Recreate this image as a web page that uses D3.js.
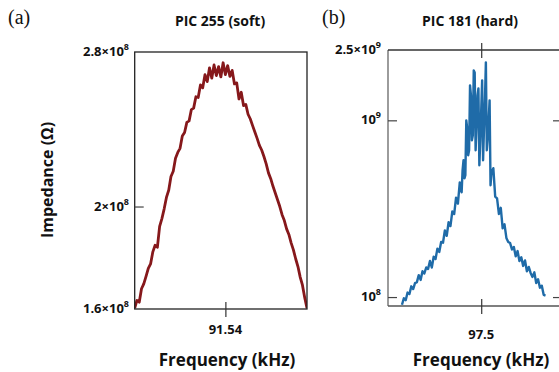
<!DOCTYPE html>
<html>
<head>
<meta charset="utf-8">
<script src="https://cdn.jsdelivr.net/npm/d3@7"></script>
<style>
  body { margin: 0; background: #fff; }
  text { font-family: "Open Sans", Lato, sans-serif; font-weight: bold; fill: #111; }
  .panel { font-family: "Liberation Serif", serif; font-weight: normal; }
</style>
</head>
<body>
<div id="chart"></div>
<script>
// panel (a) PIC 255 soft: frequency (kHz) and impedance (x1e8 ohm)
const freqA = [91.4400, 91.4425, 91.4450, 91.4475, 91.4500, 91.4525, 91.4550, 91.4575, 91.4600, 91.4625,
  91.4650, 91.4675, 91.4700, 91.4725, 91.4750, 91.4775, 91.4800, 91.4825, 91.4850, 91.4875,
  91.4900, 91.4925, 91.4950, 91.4975, 91.5000, 91.5025, 91.5050, 91.5075, 91.5100, 91.5125,
  91.5150, 91.5175, 91.5200, 91.5225, 91.5250, 91.5275, 91.5300, 91.5325, 91.5350, 91.5375,
  91.5400, 91.5425, 91.5450, 91.5475, 91.5500, 91.5525, 91.5550, 91.5575, 91.5600, 91.5625,
  91.5650, 91.5675, 91.5700, 91.5725, 91.5750, 91.5775, 91.5800, 91.5825, 91.5850, 91.5875,
  91.5900, 91.5925, 91.5950, 91.5975, 91.6000, 91.6025, 91.6050, 91.6075, 91.6100, 91.6125,
  91.6150, 91.6175, 91.6200, 91.6225, 91.6250, 91.6275, 91.6300];
const impA = [1.603, 1.630, 1.624, 1.672, 1.690, 1.718, 1.748, 1.765, 1.812, 1.838,
  1.830, 1.915, 1.948, 1.990, 2.040, 2.072, 2.135, 2.160, 2.222, 2.250,
  2.270, 2.332, 2.350, 2.402, 2.410, 2.470, 2.478, 2.540, 2.536, 2.606,
  2.590, 2.665, 2.625, 2.705, 2.645, 2.722, 2.660, 2.712, 2.652, 2.735,
  2.665, 2.718, 2.655, 2.690, 2.612, 2.618, 2.528, 2.565, 2.492, 2.498,
  2.445, 2.420, 2.385, 2.352, 2.320, 2.285, 2.262, 2.230, 2.195, 2.152,
  2.125, 2.090, 2.060, 2.030, 2.000, 1.965, 1.940, 1.905, 1.882, 1.848,
  1.820, 1.785, 1.755, 1.715, 1.685, 1.640, 1.603];

// panel (b) PIC 181 hard, denser sampling around the resonance
const freqB = [97.245, 97.251, 97.257, 97.263, 97.269, 97.275, 97.281, 97.287, 97.293, 97.299,
  97.305, 97.311, 97.317, 97.323, 97.329, 97.335, 97.341, 97.347, 97.353, 97.359,
  97.365, 97.371, 97.377, 97.383, 97.389, 97.395, 97.401, 97.407, 97.413, 97.419,
  97.425, 97.431, 97.437,
  97.440, 97.443, 97.446, 97.449, 97.452, 97.455, 97.458, 97.461, 97.464, 97.467,
  97.470, 97.473, 97.476, 97.479, 97.482, 97.485, 97.488, 97.491, 97.494, 97.497,
  97.500, 97.503, 97.506, 97.509, 97.512, 97.515, 97.518, 97.521, 97.524, 97.527,
  97.530, 97.533,
  97.539, 97.545, 97.551, 97.557, 97.563, 97.569, 97.575, 97.581, 97.587, 97.593,
  97.599, 97.605, 97.611, 97.617, 97.623, 97.629, 97.635, 97.641, 97.647, 97.653,
  97.659, 97.665, 97.671, 97.677, 97.683, 97.689, 97.695, 97.701, 97.707];
const impB = [0.905, 0.985, 0.960, 1.060, 1.040, 1.150, 1.110, 1.200, 1.215, 1.330,
  1.250, 1.400, 1.360, 1.470, 1.440, 1.600, 1.470, 1.690, 1.640, 1.880,
  1.800, 2.050, 2.030, 2.380, 2.220, 2.650, 2.520, 3.050, 2.950, 3.650,
  3.380, 4.450, 3.920,
  5.218, 5.943, 4.70, 4.890, 10.0, 9.01, 6.34, 6.77, 15.77, 13.84,
  7.71, 8.23, 19.17, 18.67, 6.77, 9.37, 13.84, 15.16, 5.57, 7.71,
  11.39, 16.83, 5.943, 9.01, 12.97, 21.27, 6.77, 7.91, 10.0, 12.97,
  4.29, 5.08,
  5.36, 3.70, 3.62, 2.95, 3.20, 2.45, 2.58, 2.16, 2.05, 2.02,
  1.86, 1.92, 1.70, 1.82, 1.60, 1.68, 1.50, 1.61, 1.40, 1.48,
  1.37, 1.30, 1.38, 1.20, 1.26, 1.13, 1.16, 1.03, 1.02];

const ticksA = [{ v: 2.8e8, m: "2.8×10", e: "8" }, { v: 2e8, m: "2×10", e: "8" }, { v: 1.6e8, m: "1.6×10", e: "8" }];
const ticksB = [{ v: 2.5e9, m: "2.5×10", e: "9" }, { v: 1e9, m: "10", e: "9" }, { v: 1e8, m: "10", e: "8" }];
const xTickA = [91.54];
const xTickB = [97.5];

const width = 559, height = 372;
const svg = d3.select("#chart").append("svg")
  .attr("width", width).attr("height", height);

const xA = d3.scaleLinear().domain([91.44, 91.63]).range([134.7, 307]);
const yA = d3.scaleLog().domain([1.6e8, 2.8e8]).range([309, 52]);
const xB = d3.scaleLinear().domain([97.2, 97.76]).range([388, 562]);
const yB = d3.scaleLog().domain([8.9e7, 2.5e9]).range([306, 50]);

// clip paths
const defs = svg.append("defs");
defs.append("clipPath").attr("id", "clipA").append("rect")
  .attr("x", 134.7).attr("y", 52).attr("width", 307 - 134.7).attr("height", 257);
defs.append("clipPath").attr("id", "clipB").append("rect")
  .attr("x", 388).attr("y", 50).attr("width", 174).attr("height", 256);

// curves
const lineA = d3.line().x((d, i) => xA(freqA[i])).y(d => yA(d * 1e8));
svg.append("path")
  .attr("clip-path", "url(#clipA)")
  .attr("d", lineA(impA))
  .attr("fill", "none")
  .attr("stroke", "#86181b")
  .attr("stroke-width", 2.8)
  .attr("stroke-linejoin", "round");

const lineB = d3.line().x((d, i) => xB(freqB[i])).y(d => yB(d * 1e8));
svg.append("path")
  .attr("clip-path", "url(#clipB)")
  .attr("d", lineB(impB))
  .attr("fill", "none")
  .attr("stroke", "#1f6ba8")
  .attr("stroke-width", 2.4)
  .attr("stroke-linejoin", "round");

// frame (a)
svg.append("rect")
  .attr("x", 134.7).attr("y", 52).attr("width", 307 - 134.7).attr("height", 257)
  .attr("fill", "none").attr("stroke", "#222").attr("stroke-width", 1.3);

// frame (b), right side runs off the page
svg.append("line").attr("x1", 388).attr("x2", 388).attr("y1", 50).attr("y2", 306)
  .attr("stroke", "#666").attr("stroke-width", 1.3);
svg.append("line").attr("x1", 388).attr("x2", 562).attr("y1", 50).attr("y2", 50)
  .attr("stroke", "#333").attr("stroke-width", 1.3);
svg.append("line").attr("x1", 388).attr("x2", 562).attr("y1", 306).attr("y2", 306)
  .attr("stroke", "#555").attr("stroke-width", 1.3);

// y axes with inward ticks
function yAxis(scale, x, ticks, dir) {
  const ax = (dir > 0 ? d3.axisLeft(scale) : d3.axisRight(scale))
    .tickValues(ticks.map(t => t.v)).tickSize(-9).tickFormat("");
  const g = svg.append("g").attr("transform", `translate(${x},0)`).call(ax);
  g.select(".domain").remove();
  g.selectAll(".tick line").attr("stroke", "#444").attr("stroke-width", 1.2);
  return g;
}
yAxis(yA, 134.7, ticksA.filter(t => t.v === 2e8), 1);
yAxis(yB, 388, ticksB.filter(t => t.v !== 2.5e9), 1);
yAxis(yB, 562, ticksB.filter(t => t.v !== 2.5e9), -1);

// x ticks crossing the frame
function xTick(scale, vals, y) {
  const g = svg.append("g").attr("transform", `translate(0,${y})`)
    .call(d3.axisBottom(scale).tickValues(vals).tickSize(8).tickFormat(""));
  g.select(".domain").remove();
  g.selectAll(".tick line").attr("y1", -7).attr("stroke", "#333").attr("stroke-width", 1.2);
}
xTick(xA, xTickA, 309);
xTick(xB, xTickB, 306);
xTick(xB, xTickB, 50);

// tick labels with superscripts
function yLabels(scale, ticks, xRight) {
  ticks.forEach(t => {
    const txt = svg.append("text")
      .attr("x", xRight).attr("y", scale(t.v) + 4)
      .attr("text-anchor", "end").style("font-size", "13px");
    txt.append("tspan").text(t.m);
    txt.append("tspan").attr("dy", -6).style("font-size", "9px").text(t.e);
  });
}
yLabels(yA, ticksA, 129);
yLabels(yB, ticksB, 381);

svg.selectAll(".xlabA").data(xTickA).enter().append("text")
  .attr("x", d => xA(d)).attr("y", 334).attr("text-anchor", "middle")
  .style("font-size", "13px").text(d => d.toFixed(2));
svg.selectAll(".xlabB").data(xTickB).enter().append("text")
  .attr("x", d => xB(d)).attr("y", 339).attr("text-anchor", "middle")
  .style("font-size", "13px").text(d => d.toFixed(1));

// axis titles
svg.append("text").attr("x", 227).attr("y", 366).attr("text-anchor", "middle")
  .style("font-size", "17px").text("Frequency (kHz)");
svg.append("text").attr("x", 481).attr("y", 366).attr("text-anchor", "middle")
  .style("font-size", "17px").text("Frequency (kHz)");
svg.append("text").attr("transform", "translate(53,180) rotate(-90)")
  .attr("text-anchor", "middle").style("font-size", "16px").text("Impedance (Ω)");

// panel titles
svg.append("text").attr("x", 220).attr("y", 26).attr("text-anchor", "middle")
  .style("font-size", "14px").text("PIC 255 (soft)");
svg.append("text").attr("x", 470).attr("y", 26).attr("text-anchor", "middle")
  .style("font-size", "14px").text("PIC 181 (hard)");
svg.append("text").attr("class", "panel").attr("x", 8).attr("y", 24)
  .style("font-size", "20px").text("(a)");
svg.append("text").attr("class", "panel").attr("x", 322).attr("y", 24)
  .style("font-size", "20px").text("(b)");
</script>
</body>
</html>
